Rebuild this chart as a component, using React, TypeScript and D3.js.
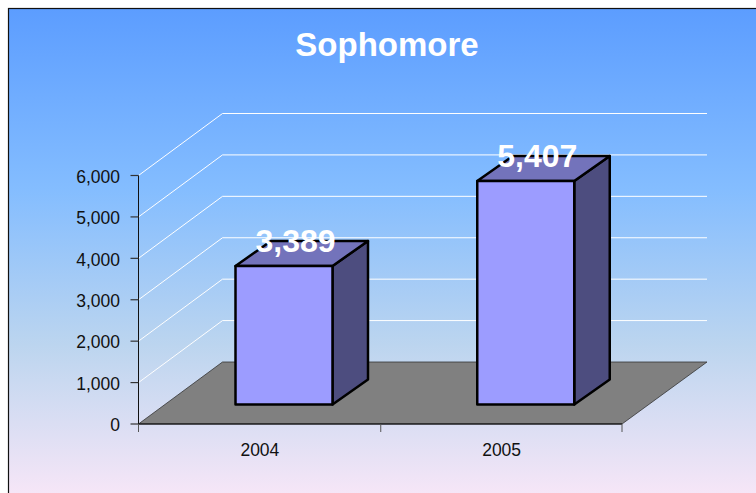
import React from "react";
import * as d3 from "d3";

const categories = ["2004", "2005"];
const values = [3389, 5407];
const yTicks = [0, 1000, 2000, 3000, 4000, 5000, 6000];
const title = "Sophomore";
const gradientStops: [string, string][] = [
  ["0%", "#5c9dff"],
  ["36%", "#84bdff"],
  ["67%", "#bcd5ef"],
  ["100%", "#fde8f8"],
];

const W = 756, H = 493;
const FONT = "'Liberation Sans', Arial, sans-serif";
const x0 = 138.5, x1 = 622, y0 = 424, y6 = 175.5;
const depthX = 84, depthY = -62;
const barBase = 404.5, barDepthX = 35.5, barDepthY = -25;

const yScale = d3.scaleLinear().domain([0, 6000]).range([y0, y6]);
const barHeight = d3.scaleLinear().domain([0, 6000]).range([-4.2, 248.5]);
const xScale = d3.scaleBand().domain(categories).range([x0, x1]).paddingInner(0);
const poly = (p: [number, number][]) => d3.line()(p)! + "Z";

export default function App() {
  const ticksX = [x0, (x0 + x1) / 2 + 0.5, x1];
  return (
    <svg width={W} height={H} style={{ position: "fixed", left: 0, top: 0 }} fontFamily={FONT}>
      <defs>
        <linearGradient id="bg" x1="0" y1="0" x2="0" y2="1">
          {gradientStops.map(([o, c]) => <stop key={o} offset={o} stopColor={c} />)}
        </linearGradient>
      </defs>
      <rect width={W} height={H} fill="#fff" />
      <rect x={8.5} y={8.5} width={W + 10} height={H + 10} fill="url(#bg)" stroke="#111" strokeWidth={1.2} />
      <text x={387} y={56} textAnchor="middle" fontSize={33} fontWeight="bold" fill="#fff">{title}</text>

      {yTicks.filter(t => t > 0).map(t => {
        const y = yScale(t);
        return (
          <path key={t} fill="none" stroke="#fff" strokeWidth={1}
            d={d3.line()([[x0, y], [x0 + depthX, y + depthY], [x1 + depthX + 1, y + depthY]])!} />
        );
      })}

      <path d={poly([[x0, y0], [x0 + depthX, y0 + depthY], [x1 + depthX + 1, y0 + depthY], [x1, y0]])}
        fill="#808080" stroke="#333" strokeWidth={0.8} />

      <line x1={x0} x2={x0} y1={y6} y2={y0} stroke="#111" strokeWidth={1} />
      <line x1={x0} x2={x1} y1={y0} y2={y0} stroke="#000" strokeWidth={1.2} />
      {yTicks.map(t => (
        <g key={t}>
          <line x1={x0 - 8} x2={x0} y1={yScale(t)} y2={yScale(t)} stroke="#333" strokeWidth={1.2} />
          <text x={x0 - 18.5} y={yScale(t) + 7.2} textAnchor="end" fontSize={17.5} fill="#111">{d3.format(",")(t)}</text>
        </g>
      ))}
      {ticksX.map(x => <line key={x} x1={x} x2={x} y1={y0} y2={y0 + 8} stroke="#555" strokeWidth={1} />)}
      {categories.map(c => (
        <text key={c} x={xScale(c)! + xScale.bandwidth() / 2 + 0.5} y={456} textAnchor="middle" fontSize={17.5} fill="#111">{c}</text>
      ))}

      {categories.map((c, i) => {
        const band = xScale(c)!;
        const left = band + 97, right = left + 97;
        const top = barBase - barHeight(values[i]);
        const dx = barDepthX, dy = barDepthY;
        return (
          <g key={c} stroke="#000" strokeWidth={2.5} strokeLinejoin="round">
            <path d={poly([[right, barBase], [right + dx, barBase + dy], [right + dx, top + dy], [right, top]])} fill="#4d4d7f" />
            <path d={poly([[left, top], [left + dx, top + dy], [right + dx, top + dy], [right, top]])} fill="#7373bb" />
            <path d={poly([[left, barBase], [left, top], [right, top], [right, barBase]])} fill="#9c9cff" />
          </g>
        );
      })}

      {categories.map((c, i) => {
        const band = xScale(c)!;
        const top = barBase - barHeight(values[i]);
        return (
          <text key={c} x={band + 157} y={top - 14} textAnchor="middle" fontSize={32} fontWeight="bold" fill="#fff">
            {d3.format(",")(values[i])}
          </text>
        );
      })}
    </svg>
  );
}
